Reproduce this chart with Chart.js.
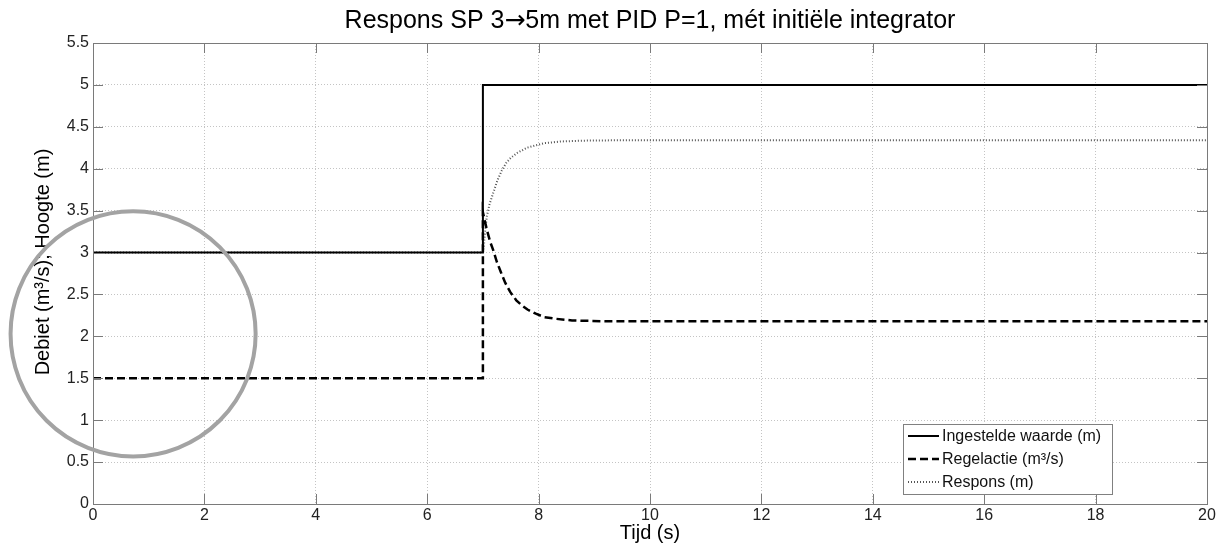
<!DOCTYPE html>
<html>
<head>
<meta charset="utf-8">
<script src="https://cdn.jsdelivr.net/npm/chart.js@4.4.0/dist/chart.umd.min.js"></script>
<style>
  html, body { margin: 0; padding: 0; background: #fff; }
  #wrap { width: 1222px; height: 546px; }
</style>
</head>
<body>
<div id="wrap"><canvas id="grafiek" width="1222" height="546"></canvas></div>
<script>
// Ingestelde waarde (setpoint)
const tijdSP = [0, 7, 7, 20];
const waardeSP = [3, 3, 5, 5];

// Regelactie (m3/s)
const tijdRegel = [0, 7, 7, 7.04, 7.08, 7.13, 7.19, 7.25, 7.32, 7.4, 7.49, 7.6, 7.7, 7.8, 7.95, 8.1, 8.3, 8.6, 9.2, 20];
const waardeRegel = [1.5, 1.5, 3.48, 3.36, 3.25, 3.13, 3.02, 2.89, 2.77, 2.64, 2.53, 2.43, 2.37, 2.32, 2.27, 2.23, 2.21, 2.19, 2.18, 2.18];

// Respons (m)
const tijdRespons = [0, 7, 7.02, 7.04, 7.07, 7.12, 7.19, 7.26, 7.34, 7.42, 7.5, 7.62, 7.79, 7.95, 8.1, 8.4, 8.8, 9.5, 20];
const waardeRespons = [3, 3, 3.1, 3.25, 3.43, 3.58, 3.72, 3.86, 3.98, 4.07, 4.13, 4.19, 4.25, 4.28, 4.305, 4.325, 4.335, 4.34, 4.34];

const xTicks = [0, 2, 4, 6, 8, 10, 12, 14, 16, 18, 20];
const yTicks = [0, 0.5, 1, 1.5, 2, 2.5, 3, 3.5, 4, 4.5, 5, 5.5];

const titelTekst = 'Respons SP 3→5m met PID P=1, mét initiële integrator';
const yTitel = 'Debiet (m³/s); Hoogte (m)';
const legendLabels = ['Ingestelde waarde (m)', 'Regelactie (m³/s)', 'Respons (m)'];

// cirkel (annotatie) in data-eenheden
const cirkelX = 0.72;
const cirkelY = 2.03;
const cirkelStraal = 2.2; // in x-eenheden

const FONT = "'Liberation Sans', Arial, sans-serif";

function punten(xs, ys) {
    return xs.map((x, i) => ({ x: x, y: ys[i] }));
}

const stijlen = [
    { color: '#000000', width: 2, dash: [] },
    { color: '#000000', width: 2.5, dash: [8, 4] },
    { color: '#555555', width: 2, dash: [1, 2] }
];

const kaderPlugin = {
    id: 'kader',
    afterDatasetsDraw(chart) {
        const ctx = chart.ctx;
        const ca = chart.chartArea;
        const sx = chart.scales.x;
        const sy = chart.scales.y;
        ctx.save();
        ctx.strokeStyle = '#7a7a7a';
        ctx.lineWidth = 1;
        ctx.setLineDash([]);
        // kader
        ctx.strokeRect(ca.left + 0.5, ca.top + 0.5, ca.right - ca.left, ca.bottom - ca.top);
        // tick-streepjes naar binnen
        ctx.beginPath();
        xTicks.forEach(v => {
            const px = Math.round(sx.getPixelForValue(v)) + 0.5;
            ctx.moveTo(px, ca.bottom); ctx.lineTo(px, ca.bottom - 10);
            ctx.moveTo(px, ca.top); ctx.lineTo(px, ca.top + 10);
        });
        yTicks.forEach(v => {
            const py = Math.round(sy.getPixelForValue(v)) + 0.5;
            ctx.moveTo(ca.left, py); ctx.lineTo(ca.left + 10, py);
            ctx.moveTo(ca.right, py); ctx.lineTo(ca.right - 10, py);
        });
        ctx.stroke();

        // legenda
        const bw = 209, bh = 70;
        const bx = ca.right - 95 - bw;
        const by = ca.bottom - 10 - bh;
        ctx.fillStyle = '#ffffff';
        ctx.fillRect(bx, by, bw, bh);
        ctx.strokeStyle = '#808080';
        ctx.strokeRect(bx + 0.5, by + 0.5, bw, bh);
        ctx.font = '16px ' + FONT;
        ctx.textBaseline = 'middle';
        ctx.textAlign = 'left';
        legendLabels.forEach((label, i) => {
            const ry = by + 12 + i * 23;
            const st = stijlen[i];
            ctx.beginPath();
            ctx.strokeStyle = st.color;
            ctx.lineWidth = st.width;
            ctx.setLineDash(st.dash);
            ctx.moveTo(bx + 5, ry);
            ctx.lineTo(bx + 36, ry);
            ctx.stroke();
            ctx.setLineDash([]);
            ctx.fillStyle = '#111111';
            ctx.fillText(label, bx + 39, ry + 1);
        });
        ctx.restore();
    },
    afterDraw(chart) {
        const ctx = chart.ctx;
        const ca = chart.chartArea;
        const sx = chart.scales.x;
        const sy = chart.scales.y;

        // titel (pijl in DejaVu, die is groter)
        const delen = titelTekst.split('→');
        const fTekst = '25px ' + FONT;
        const fPijl = "25px 'DejaVu Sans', sans-serif";
        ctx.save();
        ctx.fillStyle = '#000';
        ctx.textBaseline = 'alphabetic';
        ctx.textAlign = 'left';
        ctx.font = fTekst;
        const w1 = ctx.measureText(delen[0]).width;
        const w3 = ctx.measureText(delen[1]).width;
        ctx.font = fPijl;
        const w2 = ctx.measureText('→').width;
        const tx = (ca.left + ca.right) / 2 - (w1 + w2 + w3) / 2;
        const ty = 28;
        ctx.font = fTekst;
        ctx.fillText(delen[0], tx, ty);
        ctx.font = fPijl;
        ctx.fillText('→', tx + w1, ty);
        ctx.font = fTekst;
        ctx.fillText(delen[1], tx + w1 + w2, ty);

        // y-as titel
        ctx.translate(43, 262);
        ctx.rotate(-Math.PI / 2);
        ctx.font = '20px ' + FONT;
        ctx.textAlign = 'center';
        ctx.textBaseline = 'middle';
        ctx.fillText(yTitel, 0, 0);
        ctx.restore();

        // cirkel
        const cx = sx.getPixelForValue(cirkelX);
        const cy = sy.getPixelForValue(cirkelY);
        const r = sx.getPixelForValue(cirkelStraal) - sx.getPixelForValue(0);
        ctx.save();
        ctx.beginPath();
        ctx.strokeStyle = '#a3a3a3';
        ctx.lineWidth = 4;
        ctx.arc(cx, cy, r, 0, Math.PI * 2);
        ctx.stroke();
        ctx.restore();
    }
};

const datasets = [
    { label: legendLabels[0], data: punten(tijdSP, waardeSP) },
    { label: legendLabels[1], data: punten(tijdRegel, waardeRegel) },
    { label: legendLabels[2], data: punten(tijdRespons, waardeRespons) }
].map((ds, i) => Object.assign(ds, {
    borderColor: stijlen[i].color,
    borderWidth: stijlen[i].width,
    borderDash: stijlen[i].dash,
    pointRadius: 0,
    tension: 0,
    fill: false
}));

new Chart(document.getElementById('grafiek'), {
    type: 'line',
    data: { datasets: datasets },
    plugins: [kaderPlugin],
    options: {
        responsive: false,
        animation: false,
        layout: { padding: { left: 0, right: 15, top: 43, bottom: 0 } },
        plugins: {
            legend: { display: false },
            tooltip: { enabled: false },
            title: { display: false }
        },
        scales: {
            x: {
                type: 'linear',
                min: 0,
                max: 20,
                afterBuildTicks: s => { s.ticks = xTicks.map(v => ({ value: v })); },
                afterFit: s => { s.height = 42; s.paddingLeft = 0; s.paddingRight = 0; },
                ticks: { color: '#222', font: { family: FONT, size: 16 }, padding: 2, maxRotation: 0, autoSkip: false,
                         callback: v => String(v) },
                grid: { color: '#c4c4c4', drawTicks: false },
                border: { display: false, dash: [1, 2] },
                title: {
                    display: true,
                    text: 'Tijd (s)',
                    color: '#000',
                    font: { family: FONT, size: 20 },
                    padding: { top: 0, bottom: 1 }
                }
            },
            y: {
                min: 0,
                max: 5.5,
                afterBuildTicks: s => { s.ticks = yTicks.map(v => ({ value: v })); },
                afterFit: s => { s.width = 93; s.paddingTop = 0; s.paddingBottom = 0; },
                ticks: { color: '#222', font: { family: FONT, size: 16 }, padding: 4, autoSkip: false,
                         callback: v => String(v) },
                grid: { color: '#c4c4c4', drawTicks: false },
                border: { display: false, dash: [1, 2] },
                title: { display: false }
            }
        }
    }
});
</script>
</body>
</html>
